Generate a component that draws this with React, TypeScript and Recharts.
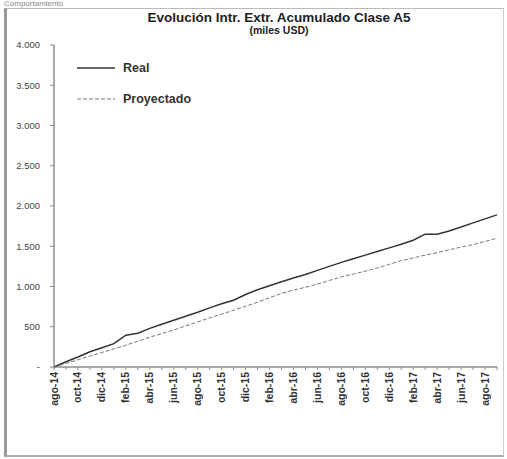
import React from "react";
import { LineChart, Line, XAxis, YAxis } from "recharts";

const months = [
  "ago-14","sep-14","oct-14","nov-14","dic-14","ene-15","feb-15","mar-15","abr-15","may-15","jun-15","jul-15",
  "ago-15","sep-15","oct-15","nov-15","dic-15","ene-16","feb-16","mar-16","abr-16","may-16","jun-16","jul-16",
  "ago-16","sep-16","oct-16","nov-16","dic-16","ene-17","feb-17","mar-17","abr-17","may-17","jun-17","jul-17",
  "ago-17","sep-17",
];
const real = [
  0, 65, 125, 190, 240, 290, 395, 420, 480, 530, 580, 630,
  680, 735, 785, 830, 900, 960, 1010, 1060, 1105, 1150, 1200, 1250,
  1300, 1345, 1390, 1435, 1480, 1525, 1575, 1650, 1650, 1690, 1740, 1790,
  1840, 1890,
];
const proyectado = [
  0, 45, 90, 135, 180, 225, 270, 320, 370, 415, 460, 510,
  560, 610, 655, 705, 755, 805, 860, 915, 955, 990, 1030, 1075,
  1120, 1155, 1190, 1230, 1275, 1320, 1355, 1390, 1420, 1455, 1490, 1520,
  1560, 1600,
];
const yTicks = [0, 500, 1000, 1500, 2000, 2500, 3000, 3500, 4000];
const seriesNames = ["Real", "Proyectado"];

const data = months.map((m, i) => ({ mes: m, real: real[i], proyectado: proyectado[i] }));

const fmtY = (v: number) => (v === 0 ? "-" : v.toLocaleString("de-DE"));
const FONT = "Liberation Sans, Arial, sans-serif";
const NARROW = "Liberation Sans Narrow, Arial Narrow, Liberation Sans, sans-serif";

const XTick = (props: any) => {
  const { x, y, payload, index } = props;
  if (index % 2 !== 0) return <g />;
  return (
    <g transform={`translate(${x},${y})`}>
      <text transform="rotate(-90)" textAnchor="end" dy={3.5} fontSize={10.5} fontWeight="bold" fill="#333" fontFamily={NARROW}>
        {payload.value}
      </text>
    </g>
  );
};

export default function App() {
  return (
    <div style={{ position: "absolute", left: 0, top: 0, width: 507, height: 459, background: "#fff", overflow: "hidden" }}>
      <div style={{ position: "absolute", left: 4, top: -1, fontSize: 8, lineHeight: "9px", color: "#888", fontFamily: FONT }}>
        Comportamiento
      </div>
      <div
        style={{
          position: "absolute", left: 4, top: 8, width: 500, height: 449,
          borderLeft: "3px solid #999", borderTop: "1px solid #bbb", borderRight: "1px solid #ccc", borderBottom: "2px solid #aaa",
          boxSizing: "border-box",
        }}
      />
      <div
        style={{
          position: "absolute", left: 0, width: 558, top: 10, textAlign: "center",
          fontFamily: FONT, fontWeight: "bold", color: "#222",
        }}
      >
        <div style={{ fontSize: 13.5, lineHeight: "15px" }}>Evolución Intr. Extr. Acumulado Clase A5</div>
        <div style={{ fontSize: 10.5, lineHeight: "11px" }}>(miles USD)</div>
      </div>
      <div style={{ position: "absolute", left: 0, top: 0 }}>
        <LineChart width={507} height={459} data={data} margin={{ top: 45, right: 10, bottom: 0, left: 0 }}>
          <XAxis
            dataKey="mes"
            interval={0}
            height={92}
            tickSize={3}
            tickMargin={2}
            tick={<XTick />}
            stroke="#555"
            tickLine={{ stroke: "#888" }}
          />
          <YAxis
            width={54}
            domain={[0, 4000]}
            ticks={yTicks}
            tickFormatter={fmtY}
            tickSize={4}
            tickMargin={10}
            stroke="#555"
            tickLine={{ stroke: "#888" }}
            tick={{ fontSize: 9.5, fill: "#444", fontFamily: FONT }}
            interval={0}
          />
          <Line type="linear" dataKey="real" name={seriesNames[0]} stroke="#333" strokeWidth={1.5} dot={false} isAnimationActive={false} />
          <Line type="linear" dataKey="proyectado" name={seriesNames[1]} stroke="#777" strokeWidth={1} strokeDasharray="4 2" dot={false} isAnimationActive={false} />
        </LineChart>
      </div>
      <div style={{ position: "absolute", left: 77, top: 58, fontFamily: FONT, fontSize: 12.5, fontWeight: "bold", color: "#333" }}>
        <div style={{ display: "flex", alignItems: "center", height: 20 }}>
          <svg width={40} height={6}><line x1={0} y1={3} x2={38} y2={3} stroke="#333" strokeWidth={1.5} /></svg>
          <span style={{ marginLeft: 6 }}>{seriesNames[0]}</span>
        </div>
        <div style={{ display: "flex", alignItems: "center", height: 20, marginTop: 11 }}>
          <svg width={40} height={6}><line x1={0} y1={3} x2={38} y2={3} stroke="#777" strokeWidth={1} strokeDasharray="4 2" /></svg>
          <span style={{ marginLeft: 6 }}>{seriesNames[1]}</span>
        </div>
      </div>
    </div>
  );
}
